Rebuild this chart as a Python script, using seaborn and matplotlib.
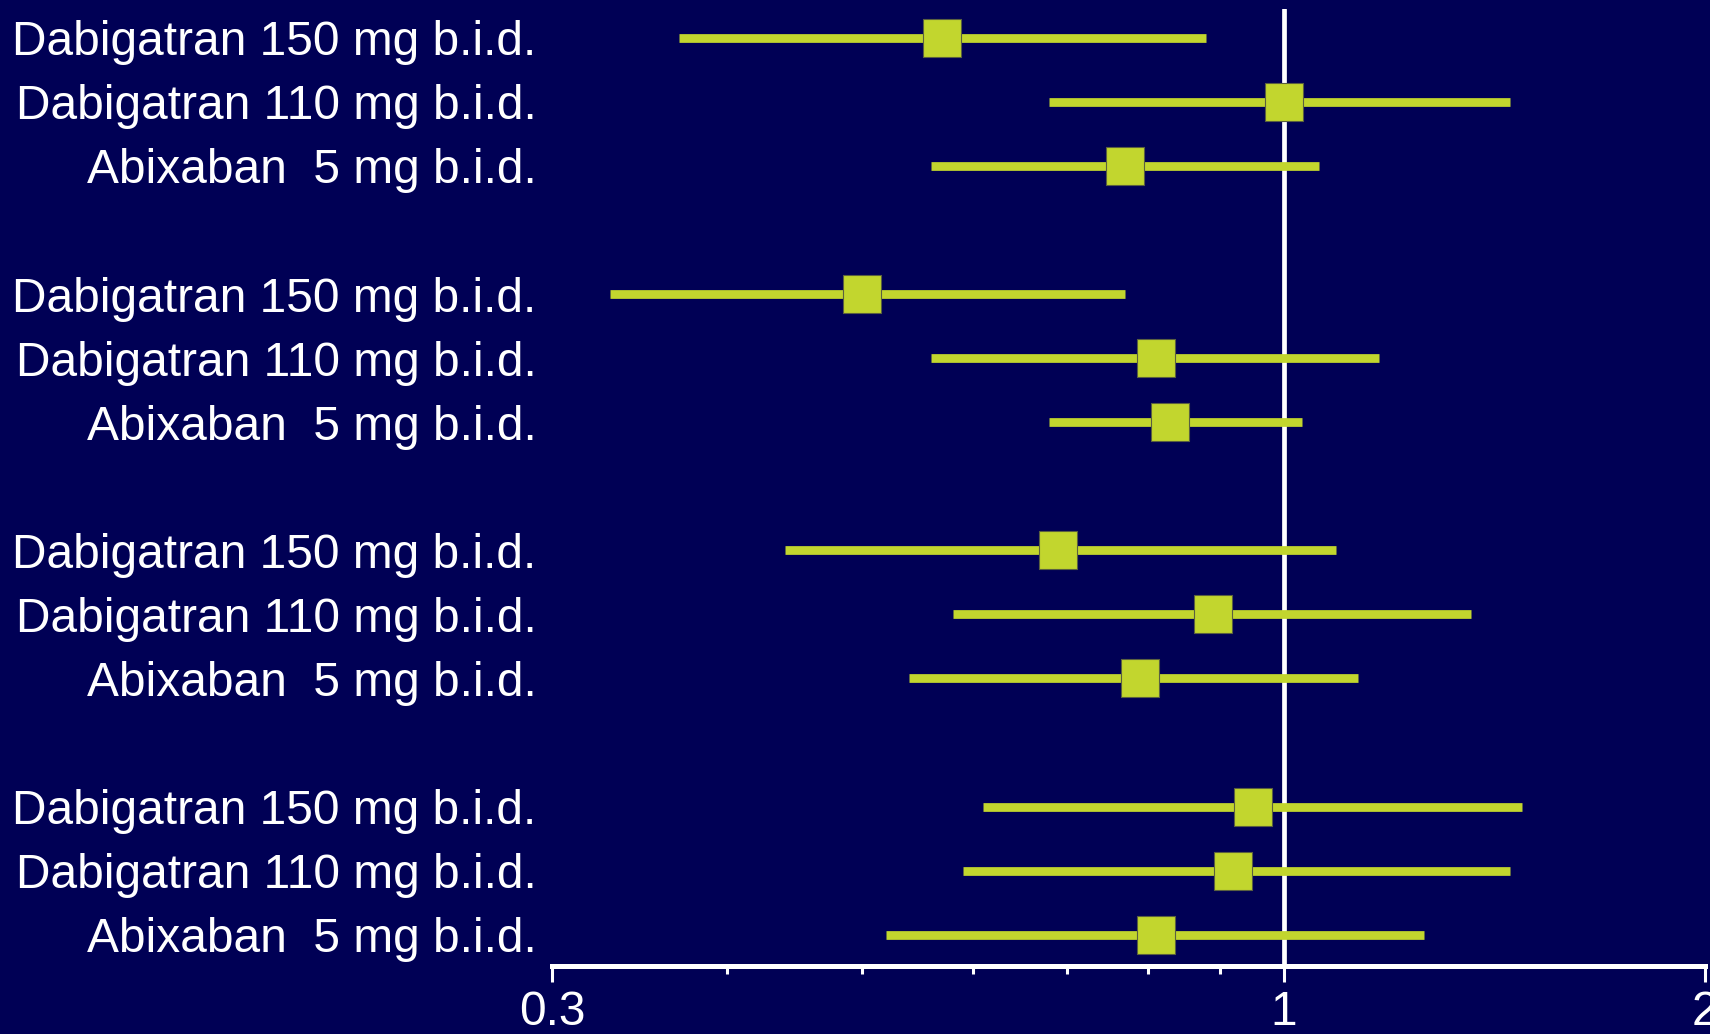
import matplotlib
matplotlib.use("Agg")
import matplotlib.pyplot as plt
import seaborn as sns
import pandas as pd

# Hazard ratios with 95% CI, four outcome groups of three regimens
treatments = ["Dabigatran 150 mg b.i.d.", "Dabigatran 110 mg b.i.d.", "Abixaban  5 mg b.i.d."]
groups = [0, 1, 2, 3]
hr = [0.57, 1.00, 0.77,
      0.50, 0.81, 0.83,
      0.69, 0.89, 0.79,
      0.95, 0.92, 0.81]
ci_low = [0.37, 0.68, 0.56,
          0.33, 0.56, 0.68,
          0.44, 0.58, 0.54,
          0.61, 0.59, 0.52]
ci_high = [0.88, 1.45, 1.06,
           0.77, 1.17, 1.03,
           1.09, 1.36, 1.13,
           1.48, 1.45, 1.26]

xticks_major = [0.3, 1, 2]
xticks_minor = [0.4, 0.5, 0.6, 0.7, 0.8, 0.9]

bg = "#000055"
lime = "#c2d62e"

rows = []
for g in groups:
    for i, t in enumerate(treatments):
        k = g * len(treatments) + i
        rows.append({"label": t, "pos": g * (len(treatments) + 1) + i,
                     "hr": hr[k], "lo": ci_low[k], "hi": ci_high[k]})
df = pd.DataFrame(rows)

sns.set_style("white")
plt.rcParams["font.family"] = ["Liberation Sans", "DejaVu Sans"]

fig = plt.figure(figsize=(17.1, 10.34), dpi=100, facecolor=bg)
ax = fig.add_axes([552 / 1710, 68 / 1034, (1705 - 552) / 1710, (1034 - 9 - 68) / 1034])
ax.set_facecolor(bg)

ax.axvline(1, color="white", lw=3.4, zorder=1)
ax.hlines(df["pos"], df["lo"], df["hi"], color=lime, lw=6.3, zorder=2)
sns.scatterplot(data=df, x="hr", y="pos", marker="s", s=780, color=lime,
                edgecolor="#5a6040", linewidth=0.8, zorder=3, ax=ax, legend=False)

ax.set_xscale("log")
ax.set_xlim(0.3, 2)
ax.set_ylim(14.49, -0.45)

ax.set_xticks(xticks_major)
ax.set_xticklabels([str(v) for v in xticks_major])
ax.set_xticks(xticks_minor, minor=True)
ax.set_xticklabels([], minor=True)
ax.tick_params(axis="x", which="major", direction="out", length=11.5, width=2.2,
               color="white", labelcolor="white", labelsize=34.5, pad=6, bottom=True)
ax.tick_params(axis="x", which="minor", direction="out", length=5.5, width=2.2,
               color="white", bottom=True)

ax.set_yticks(df["pos"])
ax.set_yticklabels(df["label"])
ax.tick_params(axis="y", length=0, labelcolor="white", labelsize=34.5, pad=11)

for s in ["top", "right", "left"]:
    ax.spines[s].set_visible(False)
ax.spines["bottom"].set_color("white")
ax.spines["bottom"].set_linewidth(3.6)

ax.set_xlabel("")
ax.set_ylabel("")

fig.savefig("out.png", dpi=100, facecolor=bg)
